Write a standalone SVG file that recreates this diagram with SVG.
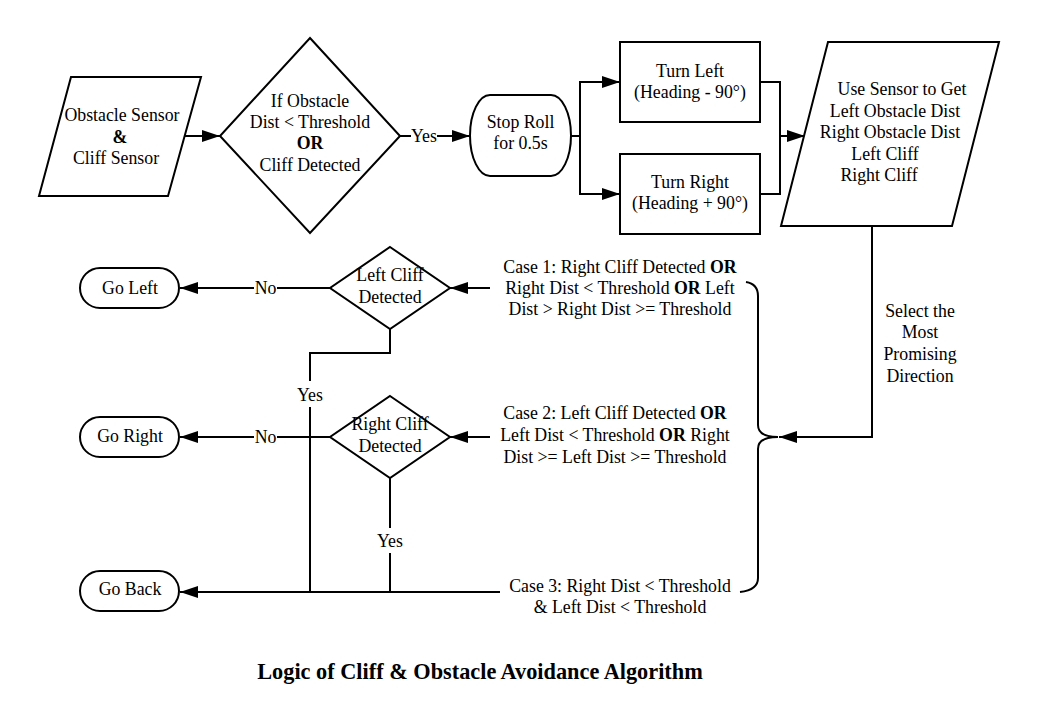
<svg xmlns="http://www.w3.org/2000/svg" width="1040" height="718" viewBox="0 0 1040 718">
<style>
.s{fill:#fff;stroke:#000;stroke-width:2}
.c{fill:none;stroke:#000;stroke-width:2}
.t{font-family:"Liberation Serif","Times New Roman",serif;font-size:17.8px;fill:#000;text-anchor:middle}
.b{font-weight:bold}
.lb{fill:#fff;stroke:none}
.title{font-family:"Liberation Serif","Times New Roman",serif;font-size:22.3px;font-weight:bold;fill:#000;text-anchor:middle}
</style>
<defs>
<marker id="ah" markerUnits="userSpaceOnUse" markerWidth="18" markerHeight="12" refX="18" refY="6" orient="auto">
<path d="M0,0 L18,6 L0,12 z" fill="#000"/>
</marker>
</defs>
<rect width="1040" height="718" fill="#fff"/>
<g id="connectors">
<path class="c" d="M185,136 L220,136" marker-end="url(#ah)"/>
<path class="c" d="M400,136 L470,136" marker-end="url(#ah)"/>
<path class="c" d="M571,136 L580,136"/>
<path class="c" d="M580,136 L580,82 L620,82" marker-end="url(#ah)"/>
<path class="c" d="M580,136 L580,194 L620,194" marker-end="url(#ah)"/>
<path class="c" d="M760,82 L780,82 L780,194 L760,194"/>
<path class="c" d="M780,136 L805,136" marker-end="url(#ah)"/>
<path class="c" d="M872,226 L872,437 L779,437" marker-end="url(#ah)"/>
<path class="c" d="M746,282 Q758,284 758,296 L758,425 Q758,437 778,437 Q758,437 758,449 L758,578 Q758,590 740,592"/>
<path class="c" d="M490,288 L450,288" marker-end="url(#ah)"/>
<path class="c" d="M490,437 L450,437" marker-end="url(#ah)"/>
<path class="c" d="M500,592 L180,592" marker-end="url(#ah)"/>
<path class="c" d="M330,288 L180,288" marker-end="url(#ah)"/>
<path class="c" d="M330,437 L180,437" marker-end="url(#ah)"/>
<path class="c" d="M390,329 L390,353 L310,353 L310,592"/>
<path class="c" d="M390,478 L390,592"/>
<g id="labels">
<rect class="lb" x="411" y="127" width="26" height="18"/>
<text class="t" x="424" y="142">Yes</text>
<rect class="lb" x="254" y="279" width="23" height="18"/>
<text class="t" x="265.5" y="294">No</text>
<rect class="lb" x="254" y="428" width="23" height="18"/>
<text class="t" x="265.5" y="443">No</text>
<rect class="lb" x="297" y="381" width="26" height="26"/>
<text class="t" x="310" y="401">Yes</text>
<rect class="lb" x="377" y="528" width="26" height="25"/>
<text class="t" x="390" y="547">Yes</text>
</g>
</g>
<g id="sensor-input">
<polygon class="s" points="71,77 201,77 168,196 39,196"/>
<text class="t" x="122" y="121">Obstacle Sensor</text>
<text class="t b" x="120" y="143">&amp;</text>
<text class="t" x="116" y="164">Cliff Sensor</text>
</g>
<g id="obstacle-check">
<polygon class="s" points="310,38 400,136 310,233 220,136"/>
<text class="t" x="310" y="107">If Obstacle</text>
<text class="t" x="310" y="128">Dist &lt; Threshold</text>
<text class="t b" x="310" y="149">OR</text>
<text class="t" x="310" y="171">Cliff Detected</text>
</g>
<g id="stop-roll">
<rect class="s" x="470" y="95" width="101" height="81" rx="20" ry="40.5"/>
<text class="t" x="520.5" y="128">Stop Roll</text>
<text class="t" x="520.5" y="149">for 0.5s</text>
</g>
<g id="turn-left">
<rect class="s" x="620" y="42" width="140" height="80"/>
<text class="t" x="690" y="77">Turn Left</text>
<text class="t" x="690" y="98">(Heading - 90°)</text>
</g>
<g id="turn-right">
<rect class="s" x="620" y="154" width="140" height="80"/>
<text class="t" x="690" y="188">Turn Right</text>
<text class="t" x="690" y="209">(Heading + 90°)</text>
</g>
<g id="sensor-read">
<polygon class="s" points="828,42 999,42 952,226 781,226"/>
<text class="t" x="902" y="95">Use Sensor to Get</text>
<text class="t" x="895" y="117">Left Obstacle Dist</text>
<text class="t" x="890" y="138">Right Obstacle Dist</text>
<text class="t" x="885" y="160">Left Cliff</text>
<text class="t" x="879" y="181">Right Cliff</text>
</g>
<g id="select-label">
<text class="t" x="920" y="317">Select the</text>
<text class="t" x="920" y="338">Most</text>
<text class="t" x="920" y="360">Promising</text>
<text class="t" x="920" y="382">Direction</text>
</g>
<g id="case1">
<text class="t" x="620" y="273">Case 1: Right Cliff Detected <tspan class="b">OR</tspan></text>
<text class="t" x="620" y="294">Right Dist &lt; Threshold <tspan class="b">OR</tspan> Left</text>
<text class="t" x="620" y="315">Dist &gt; Right Dist &gt;= Threshold</text>
</g>
<g id="case2">
<text class="t" x="615" y="419">Case 2: Left Cliff Detected <tspan class="b">OR</tspan></text>
<text class="t" x="615" y="441">Left Dist &lt; Threshold <tspan class="b">OR</tspan> Right</text>
<text class="t" x="615" y="463">Dist &gt;= Left Dist &gt;= Threshold</text>
</g>
<g id="case3">
<text class="t" x="620" y="592">Case 3: Right Dist &lt; Threshold</text>
<text class="t" x="620" y="613">&amp; Left Dist &lt; Threshold</text>
</g>
<g id="left-cliff">
<polygon class="s" points="390,247 450,288 390,329 330,288"/>
<text class="t" x="390" y="281">Left Cliff</text>
<text class="t" x="390" y="303">Detected</text>
</g>
<g id="right-cliff">
<polygon class="s" points="390,396 450,437 390,478 330,437"/>
<text class="t" x="390" y="430">Right Cliff</text>
<text class="t" x="390" y="452">Detected</text>
</g>
<g id="go-left">
<rect class="s" x="80" y="268" width="99" height="40" rx="20" ry="20"/>
<text class="t" x="130" y="294">Go Left</text>
</g>
<g id="go-right">
<rect class="s" x="80" y="417" width="99" height="40" rx="20" ry="20"/>
<text class="t" x="130" y="442">Go Right</text>
</g>
<g id="go-back">
<rect class="s" x="80" y="571" width="99" height="40" rx="20" ry="20"/>
<text class="t" x="130" y="595">Go Back</text>
</g>
<text class="title" x="480" y="679">Logic of Cliff &amp; Obstacle Avoidance Algorithm</text>
</svg>
